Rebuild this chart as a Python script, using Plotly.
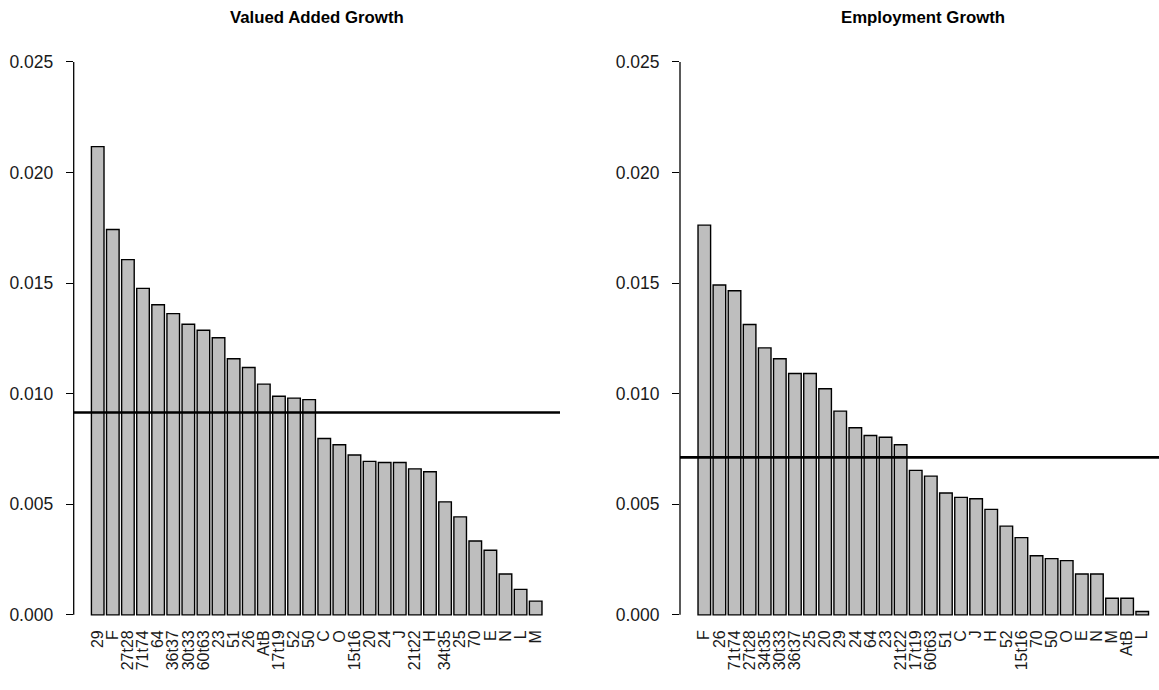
import plotly.graph_objects as go

# Industry codes and growth rates, sorted from highest to lowest
va_codes = ["29", "F", "27t28", "71t74", "64", "36t37", "30t33", "60t63", "23", "51",
            "26", "AtB", "17t19", "52", "50", "C", "O", "15t16", "20", "24",
            "J", "21t22", "H", "34t35", "25", "70", "E", "N", "L", "M"]
va_growth = [0.02117, 0.01742, 0.01606, 0.01476, 0.01402, 0.01362, 0.01314, 0.01287, 0.01253, 0.01158,
             0.01118, 0.01043, 0.00988, 0.00980, 0.00973, 0.00797, 0.00769, 0.00723, 0.00694, 0.00689,
             0.00689, 0.00660, 0.00647, 0.00511, 0.00443, 0.00334, 0.00292, 0.00185, 0.00115, 0.00062]
va_reference = 0.00915

emp_codes = ["F", "26", "71t74", "27t28", "34t35", "30t33", "36t37", "25", "20", "29",
             "24", "64", "23", "21t22", "17t19", "60t63", "51", "C", "J", "H",
             "52", "15t16", "70", "50", "O", "E", "N", "M", "AtB", "L"]
emp_growth = [0.01762, 0.01491, 0.01465, 0.01313, 0.01207, 0.01158, 0.01091, 0.01091, 0.01022, 0.00921,
              0.00846, 0.00811, 0.00803, 0.00769, 0.00653, 0.00627, 0.00551, 0.00531, 0.00525, 0.00477,
              0.00401, 0.00349, 0.00267, 0.00254, 0.00245, 0.00185, 0.00185, 0.00075, 0.00075, 0.00015]
emp_reference = 0.00712

titles = ["Valued Added Growth", "Employment Growth"]
y_ticks = [0.0, 0.005, 0.010, 0.015, 0.020, 0.025]

W, H = 1159, 690
FONT = "Liberation Sans, Arial, sans-serif"
BAR_FILL = "#bebebe"


def fx(px):
    return px / W


def fy(px):
    return (H - px) / H


fig = go.Figure()

panels = [
    dict(codes=va_codes, vals=va_growth, ref=va_reference, title=titles[0],
         xdom=[fx(73.7), fx(560.0)], xrange=[-1.59, 30.61], xa="x", ya="y"),
    dict(codes=emp_codes, vals=emp_growth, ref=emp_reference, title=titles[1],
         xdom=[fx(680.0), 1.0], xrange=[-1.61, 30.11], xa="x2", ya="y2"),
]

y_range = [-0.0001, 0.0256]
y_dom = [fy(624.3), fy(49.2)]

for i, p in enumerate(panels):
    sfx = "" if i == 0 else "2"
    fig.add_trace(go.Bar(
        x=list(range(len(p["codes"]))), y=p["vals"],
        marker=dict(color=BAR_FILL, line=dict(color="black", width=1.4)),
        xaxis=p["xa"], yaxis=p["ya"], showlegend=False, hoverinfo="skip",
    ))
    fig.update_layout(**{
        "xaxis" + sfx: dict(
            domain=p["xdom"], range=p["xrange"], anchor=p["ya"],
            tickmode="array", tickvals=list(range(len(p["codes"]))), ticktext=p["codes"],
            tickangle=-90, showgrid=False, zeroline=False, showline=False, ticks="",
            tickfont=dict(family=FONT, size=16, color="#1a1a1a"), ticklabelstandoff=9,
        ),
        "yaxis" + sfx: dict(
            domain=y_dom, range=y_range, anchor=p["xa"],
            tickmode="array", tickvals=y_ticks, tickformat=".3f",
            ticks="outside", ticklen=7, tickwidth=1.3, tickcolor="black",
            showgrid=False, zeroline=False, showline=False,
            tickfont=dict(family=FONT, size=17.5, color="#1a1a1a"), ticklabelstandoff=9,
        ),
    })
    # y axis spine spanning the tick range only
    fig.add_shape(type="line", xref=p["xa"] + " domain", yref=p["ya"],
                  x0=0, x1=0, y0=y_ticks[0], y1=y_ticks[-1],
                  line=dict(color="black", width=1.3))
    # reference growth level
    fig.add_shape(type="line", xref=p["xa"] + " domain", yref=p["ya"],
                  x0=0, x1=1, y0=p["ref"], y1=p["ref"],
                  line=dict(color="black", width=2.6))
    fig.add_annotation(text="<b>" + p["title"] + "</b>", xref="paper", yref="paper",
                       x=(p["xdom"][0] + (fx(1166.0) if i == 1 else p["xdom"][1])) / 2,
                       y=fy(18), xanchor="center", yanchor="middle", showarrow=False,
                       font=dict(family=FONT, size=16.8, color="black"))

fig.update_layout(
    width=W, height=H, margin=dict(l=0, r=0, t=0, b=0),
    paper_bgcolor="white", plot_bgcolor="white", bargap=0.1667,
)

fig.write_html("out.html")
